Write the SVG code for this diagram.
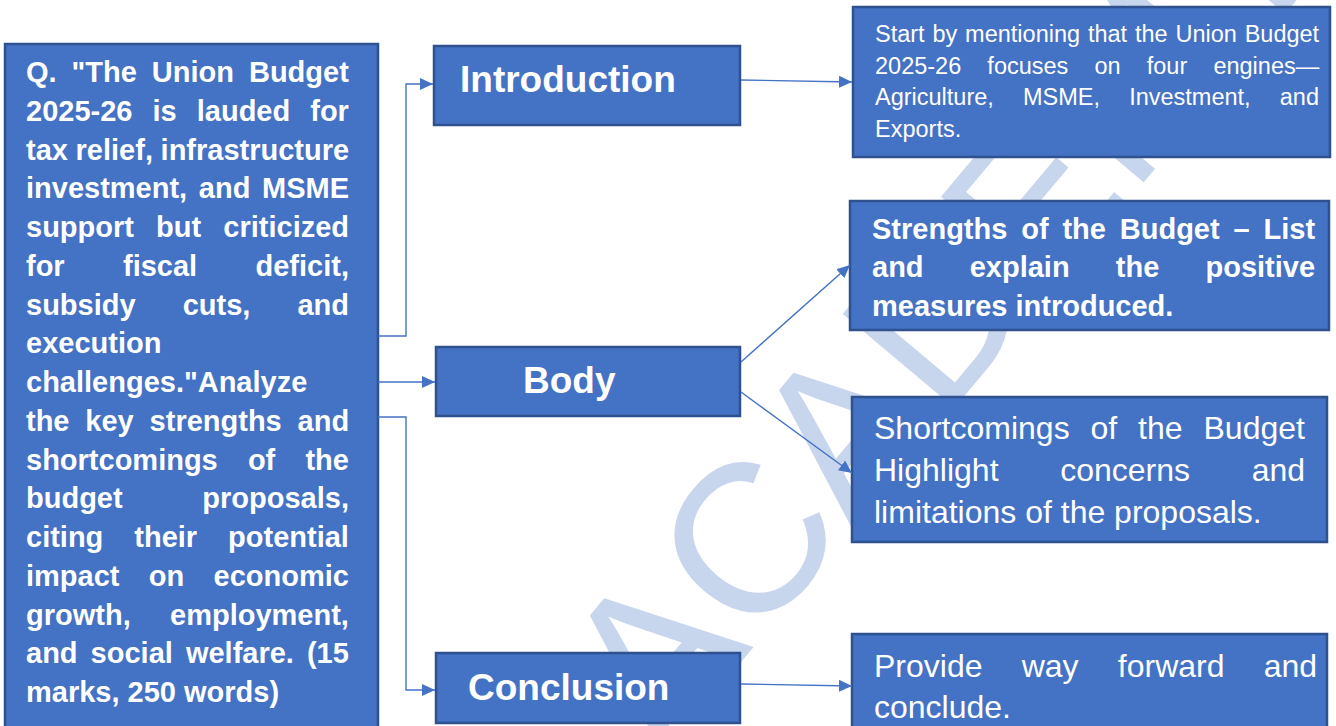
<svg xmlns="http://www.w3.org/2000/svg" width="1336" height="726" viewBox="0 0 1336 726">
<defs>
<style>
.box{fill:#4472c4;stroke:#2f528f;stroke-width:2.5}
.t{fill:#ffffff;font-family:"Liberation Sans",Arial,sans-serif}
.b{font-weight:bold}
.q{font-size:29px;font-weight:bold}
.h{font-size:37px;font-weight:bold}
.con{fill:none;stroke:#4472c4;stroke-width:1.4}
.wm{fill:#c7d5ed;font-family:"Liberation Sans",Arial,sans-serif;font-size:212px}
</style>
<marker id="arr" markerUnits="userSpaceOnUse" markerWidth="14" markerHeight="12" refX="13" refY="6" orient="auto">
<path d="M0,0 L13,6 L0,12 z" fill="#4472c4"/>
</marker>
</defs>
<rect x="0" y="0" width="1336" height="726" fill="#ffffff"/>
<g id="watermark">
<text class="wm" transform="translate(663,755) rotate(-50)" x="0" y="0">ACADEMY</text>
</g>
<g id="question">
<rect class="box" x="5" y="44" width="373" height="690"/>
<text class="t q" x="26" y="82" word-spacing="6.9">Q. "The Union Budget</text>
<text class="t q" x="26" y="120.75" word-spacing="12">2025-26 is lauded for</text>
<text class="t q" x="26" y="159.5" word-spacing="-0.4">tax relief, infrastructure</text>
<text class="t q" x="26" y="198.25" word-spacing="3.6">investment, and MSME</text>
<text class="t q" x="26" y="237" word-spacing="14.1">support but criticized</text>
<text class="t q" x="26" y="275.75" word-spacing="50.3">for fiscal deficit,</text>
<text class="t q" x="26" y="314.5" word-spacing="39">subsidy cuts, and</text>
<text class="t q" x="26" y="353.25">execution</text>
<text class="t q" x="26" y="392">challenges."Analyze</text>
<text class="t q" x="26" y="430.75" word-spacing="7.8">the key strengths and</text>
<text class="t q" x="26" y="469.5" word-spacing="22.1">shortcomings of the</text>
<text class="t q" x="26" y="508.25" word-spacing="71.6">budget proposals,</text>
<text class="t q" x="26" y="547" word-spacing="22.9">citing their potential</text>
<text class="t q" x="26" y="585.75" word-spacing="21.3">impact on economic</text>
<text class="t q" x="26" y="624.5" word-spacing="31.3">growth, employment,</text>
<text class="t q" x="26" y="663.25" word-spacing="5">and social welfare. (15</text>
<text class="t q" x="26" y="702">marks, 250 words)</text>
</g>
<g id="introduction">
<rect class="box" x="434" y="46" width="306" height="79"/>
<text class="t h" x="460" y="92">Introduction</text>
</g>
<g id="body">
<rect class="box" x="436" y="347" width="304" height="69"/>
<text class="t h" x="523" y="393">Body</text>
</g>
<g id="conclusion">
<rect class="box" x="436" y="653" width="304" height="70"/>
<text class="t h" x="468" y="700">Conclusion</text>
</g>
<g id="intro-detail">
<rect class="box" x="853" y="7" width="477" height="150"/>
<text class="t" style="font-size:23.5px" x="875" y="42" word-spacing="1.3">Start by mentioning that the Union Budget</text>
<text class="t" style="font-size:23.5px" x="875" y="73.5" word-spacing="19.6">2025-26 focuses on four engines—</text>
<text class="t" style="font-size:23.5px" x="875" y="105" word-spacing="22.6">Agriculture, MSME, Investment, and</text>
<text class="t" style="font-size:23.5px" x="875" y="136.5">Exports.</text>
</g>
<g id="strengths">
<rect class="box" x="850" y="201" width="479" height="129"/>
<text class="t b" style="font-size:29px" x="872" y="238.5" word-spacing="5.8">Strengths of the Budget – List</text>
<text class="t b" style="font-size:29px" x="872" y="277" word-spacing="38.1">and explain the positive</text>
<text class="t b" style="font-size:29px" x="872" y="315.5">measures introduced.</text>
</g>
<g id="shortcomings">
<rect class="box" x="852" y="397" width="475" height="145"/>
<text class="t" style="font-size:32px" x="874" y="438.5" word-spacing="12">Shortcomings of the Budget</text>
<text class="t" style="font-size:32px" x="874" y="480.5" word-spacing="52.8">Highlight concerns and</text>
<text class="t" style="font-size:32px" x="874" y="522.5">limitations of the proposals.</text>
</g>
<g id="conclusion-detail">
<rect class="box" x="852" y="634" width="475" height="100"/>
<text class="t" style="font-size:32px" x="874" y="676.5" word-spacing="30.3">Provide way forward and</text>
<text class="t" style="font-size:32px" x="874" y="718">conclude.</text>
</g>
<g id="connectors">
<path class="con" d="M378,336 H406 V84 H433" marker-end="url(#arr)"/>
<path class="con" d="M378,382 H435" marker-end="url(#arr)"/>
<path class="con" d="M378,417 H406 V690 H435" marker-end="url(#arr)"/>
<path class="con" d="M741,80 L852,82" marker-end="url(#arr)"/>
<path class="con" d="M741,362 L850,265" marker-end="url(#arr)"/>
<path class="con" d="M741,392 L852,473" marker-end="url(#arr)"/>
<path class="con" d="M741,684 L852,686" marker-end="url(#arr)"/>
</g>
</svg>
